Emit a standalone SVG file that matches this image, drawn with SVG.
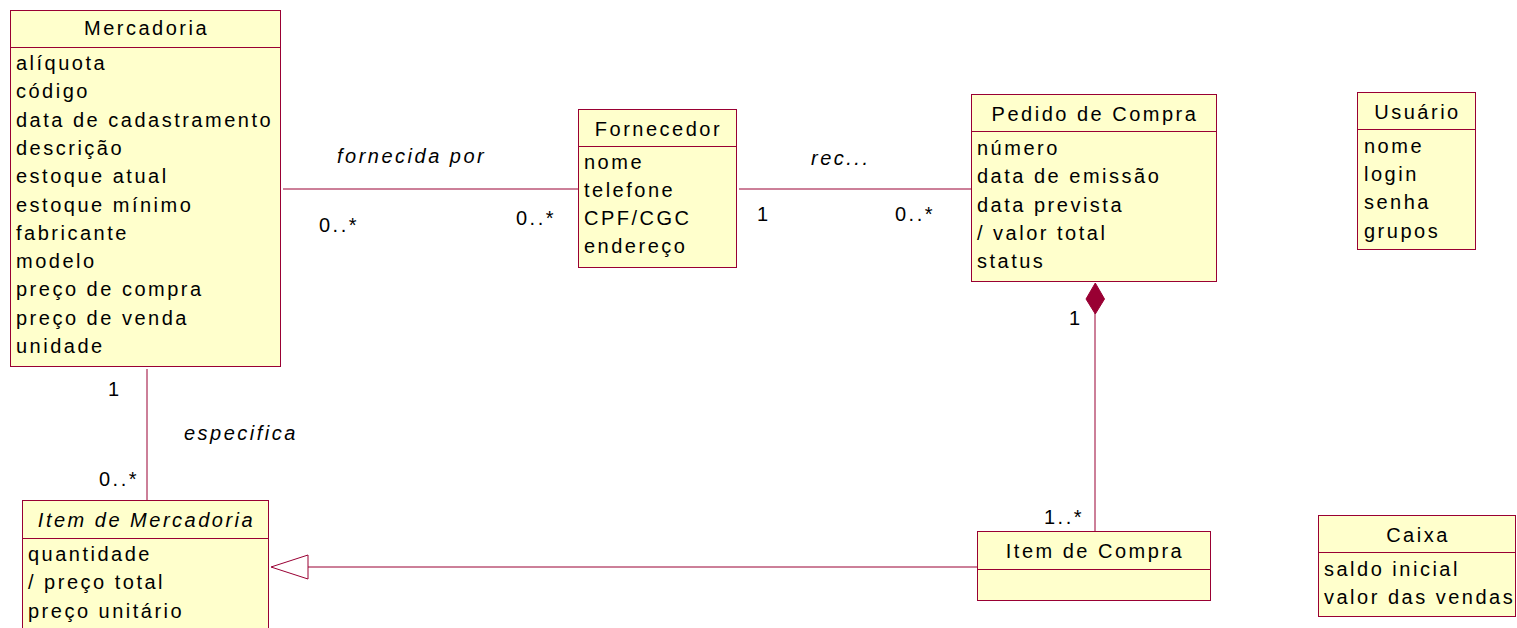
<svg xmlns="http://www.w3.org/2000/svg" width="1517" height="628" viewBox="0 0 1517 628">
<style>
text{font-family:"Liberation Sans",Arial,sans-serif;font-size:20px;letter-spacing:2.5px;fill:#000}
.t{text-anchor:middle}
.i{font-style:italic}
.box{fill:#FFFFCC;stroke:#990033;stroke-width:1}
.sep{stroke:#990033;stroke-width:1}
.ln{stroke:#990033;stroke-width:1;fill:none}
</style>
<rect width="1517" height="628" fill="#fff"/>
<g id="connectors">
  <line class="ln" x1="283" y1="189" x2="578" y2="189"/>
  <line class="ln" x1="739" y1="189" x2="971" y2="189"/>
  <line class="ln" x1="147" y1="369" x2="147" y2="500"/>
  <line class="ln" x1="1095" y1="313" x2="1095" y2="531"/>
  <polygon points="1095.3,283 1104.5,299 1095.3,314 1086,299" fill="#990033" stroke="#990033" stroke-width="1"/>
  <line class="ln" x1="308" y1="567" x2="977" y2="567"/>
  <polygon points="271,567 308,555 308,579" fill="#fff" stroke="#990033" stroke-width="1"/>
  <text class="i" x="337" y="163">fornecida por</text>
  <text x="319" y="232">0..*</text>
  <text x="516" y="225">0..*</text>
  <text class="i" x="811" y="165">rec...</text>
  <text x="757" y="221">1</text>
  <text x="895" y="221">0..*</text>
  <text x="1069" y="325">1</text>
  <text x="1044" y="524">1..*</text>
  <text x="108" y="396">1</text>
  <text class="i" x="184" y="440">especifica</text>
  <text x="99" y="486">0..*</text>
</g>
<g id="mercadoria">
  <rect class="box" x="10.5" y="10.5" width="270" height="356"/>
  <line class="sep" x1="10.5" y1="47.5" x2="280.5" y2="47.5"/>
  <text class="t" x="146.5" y="35">Mercadoria</text>
  <text x="16" y="70">alíquota</text>
  <text x="16" y="98.3">código</text>
  <text x="16" y="126.6">data de cadastramento</text>
  <text x="16" y="154.9">descrição</text>
  <text x="16" y="183.2">estoque atual</text>
  <text x="16" y="211.5">estoque mínimo</text>
  <text x="16" y="239.8">fabricante</text>
  <text x="16" y="268.1">modelo</text>
  <text x="16" y="296.4">preço de compra</text>
  <text x="16" y="324.7">preço de venda</text>
  <text x="16" y="353">unidade</text>
</g>
<g id="fornecedor">
  <rect class="box" x="578.5" y="109.5" width="158" height="158"/>
  <line class="sep" x1="578.5" y1="146.5" x2="736.5" y2="146.5"/>
  <text class="t" x="658.5" y="136">Fornecedor</text>
  <text x="584" y="168.5">nome</text>
  <text x="584" y="196.8">telefone</text>
  <text x="584" y="225.1">CPF/CGC</text>
  <text x="584" y="253.4">endereço</text>
</g>
<g id="pedido-de-compra">
  <rect class="box" x="971.5" y="94.5" width="245" height="187"/>
  <line class="sep" x1="971.5" y1="131.5" x2="1216.5" y2="131.5"/>
  <text class="t" x="1095" y="121">Pedido de Compra</text>
  <text x="977" y="155">número</text>
  <text x="977" y="183.3">data de emissão</text>
  <text x="977" y="211.6">data prevista</text>
  <text x="977" y="239.9">/ valor total</text>
  <text x="977" y="268.2">status</text>
</g>
<g id="usuario">
  <rect class="box" x="1357.5" y="92.5" width="118" height="157"/>
  <line class="sep" x1="1357.5" y1="129.5" x2="1475.5" y2="129.5"/>
  <text class="t" x="1417.5" y="118.5">Usuário</text>
  <text x="1364" y="152.7">nome</text>
  <text x="1364" y="181">login</text>
  <text x="1364" y="209.3">senha</text>
  <text x="1364" y="237.6">grupos</text>
</g>
<g id="item-de-mercadoria">
  <rect class="box" x="22.5" y="500.5" width="246" height="140"/>
  <line class="sep" x1="22.5" y1="538.5" x2="268.5" y2="538.5"/>
  <text class="t i" x="146.5" y="527">Item de Mercadoria</text>
  <text x="28" y="561">quantidade</text>
  <text x="28" y="589.3">/ preço total</text>
  <text x="28" y="617.6">preço unitário</text>
</g>
<g id="item-de-compra">
  <rect class="box" x="977.5" y="531.5" width="233" height="69"/>
  <line class="sep" x1="977.5" y1="569.5" x2="1210.5" y2="569.5"/>
  <text class="t" x="1095" y="558">Item de Compra</text>
</g>
<g id="caixa">
  <rect class="box" x="1318.5" y="515.5" width="197" height="101"/>
  <line class="sep" x1="1318.5" y1="552.5" x2="1515.5" y2="552.5"/>
  <text class="t" x="1418" y="541.5">Caixa</text>
  <text x="1324" y="575.5">saldo inicial</text>
  <text x="1324" y="603.8">valor das vendas</text>
</g>
</svg>
